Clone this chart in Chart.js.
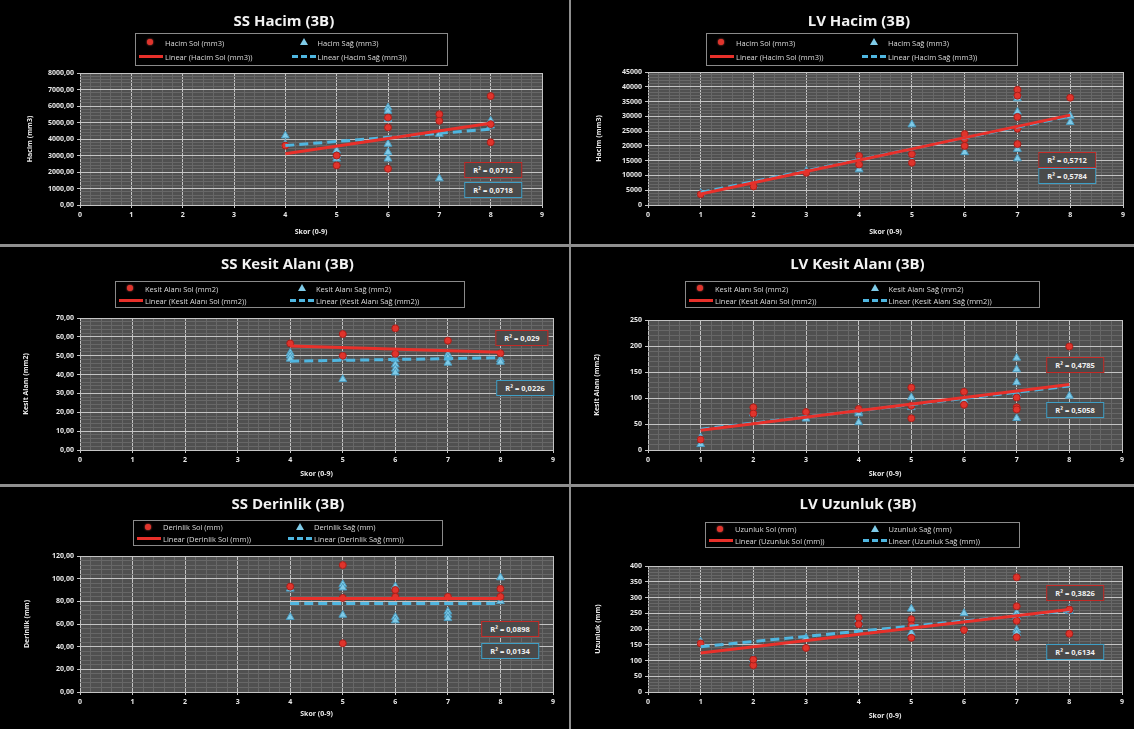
<!DOCTYPE html>
<html>
<head>
<meta charset="utf-8">
<script src="https://cdn.jsdelivr.net/npm/chart.js@4.4.1/dist/chart.umd.min.js"></script>
<style>
  html, body { margin: 0; padding: 0; background: #000; }
  body { width: 1134px; height: 729px; position: relative; overflow: hidden; font-family: "Open Sans", "Liberation Sans", sans-serif; }
  canvas { position: absolute; }
  .sep { position: absolute; background: #8f8f8f; }
  .legend { position: absolute; border: 1px solid #8a8a8a; box-sizing: border-box; display: grid; grid-template-columns: 1fr 1fr; align-content: space-evenly; padding: 0 3px; color: #dcdcdc; font-size: 7.5px; }
  .legend .item { display: flex; align-items: center; white-space: nowrap; height: 11px; }
  .legend .mk { width: 24px; height: 11px; position: relative; flex: none; margin-right: 2px; }
  .mk.dot::after { content: ""; position: absolute; left: 8px; top: 2px; width: 6px; height: 6px; border-radius: 50%; background: #e0342c; box-shadow: 0 0 2px #ff5a50; }
  .mk.tri::after { content: ""; position: absolute; left: 8px; top: 1px; width: 0; height: 0; border-left: 4px solid transparent; border-right: 4px solid transparent; border-bottom: 7px solid #7fcbe8; }
  .mk.ln::after { content: ""; position: absolute; left: 0; right: 0; top: 4px; border-top: 3px solid #e8302a; }
  .mk.dash::after { content: ""; position: absolute; left: 0; right: 0; top: 4px; border-top: 3px dashed #4fb6e0; }
  .r2 { position: absolute; font-size: 7.5px; font-weight: bold; color: #f0f0f0; padding: 2px 8px; white-space: nowrap; transform: translate(-50%, -50%); background: #4a4a4a; }
  .r2.sol { border: 1.5px solid #c32a26; }
  .r2.sag { border: 1.5px solid #3e9fc6; }
</style>
</head>
<body>
<script>
// ---------------- DATA ----------------
// SS Hacim (3B)
const ssHacimSolX = [4, 5, 5, 6, 6, 6, 7, 7, 8, 8, 8];
const ssHacimSolY = [3600, 2400, 3000, 4700, 5300, 2200, 5500, 5100, 6600, 3800, 4900];
const ssHacimSagX = [4, 4, 5, 5, 5, 6, 6, 6, 6, 6, 6, 7, 7, 8, 8];
const ssHacimSagY = [4200, 3700, 3300, 3000, 2800, 5900, 5700, 5200, 3700, 3200, 2800, 4300, 1600, 5100, 4800];
const ssHacimTrendX = [4, 8];
const ssHacimSolTrend = [3100, 4950];
const ssHacimSagTrend = [3600, 4600];
const ssHacimR2 = ["R² = 0,0712", "R² = 0,0718"];

// LV Hacim (3B)
const lvHacimSolX = [1, 2, 3, 4, 4, 5, 5, 6, 6, 6, 7, 7, 7, 7, 7, 8];
const lvHacimSolY = [3600, 6300, 10900, 13700, 16600, 17200, 14300, 22300, 20000, 24000, 39000, 29800, 25800, 20600, 37000, 36300];
const lvHacimSagX = [1, 2, 3, 4, 4, 5, 5, 5, 6, 6, 7, 7, 7, 7, 7, 7, 8, 8];
const lvHacimSagY = [4000, 6500, 11500, 16600, 12000, 27200, 17500, 14900, 22900, 17800, 37200, 36000, 31500, 25800, 18900, 15700, 30100, 28000];
const lvHacimTrendX = [1, 8];
const lvHacimSolTrend = [3700, 30400];
const lvHacimSagTrend = [4200, 30100];
const lvHacimR2 = ["R² = 0,5712", "R² = 0,5784"];

// SS Kesit Alanı (3B)
const ssKesitSolX = [4, 5, 5, 6, 6, 7, 8];
const ssKesitSolY = [56.5, 61.5, 50, 64.5, 51, 58, 51.3];
const ssKesitSagX = [4, 4, 4, 5, 5, 5, 6, 6, 6, 6, 6, 7, 7, 7, 8, 8];
const ssKesitSagY = [51.5, 50, 48.3, 50, 48.9, 37.5, 50.6, 48, 45.3, 43, 41, 50.6, 48.9, 46.2, 48, 46.7];
const ssKesitTrendX = [4, 8];
const ssKesitSolTrend = [55.2, 51.8];
const ssKesitSagTrend = [47.1, 48.9];
const ssKesitR2 = ["R² = 0,029", "R² = 0,0226"];

// LV Kesit Alanı (3B)
const lvKesitSolX = [1, 2, 2, 3, 4, 5, 5, 5, 6, 6, 7, 7, 7, 8];
const lvKesitSolY = [20, 82, 70, 73, 79, 120, 61, 85, 112, 87, 82, 78, 101, 199];
const lvKesitSagX = [1, 1, 2, 2, 3, 4, 4, 4, 5, 5, 6, 7, 7, 7, 7, 7, 7, 8];
const lvKesitSagY = [24, 11, 73, 70, 60, 73, 70, 53, 101, 82, 95, 177, 155, 130, 108, 104, 61, 104];
const lvKesitTrendX = [1, 8];
const lvKesitSolTrend = [38, 126];
const lvKesitSagTrend = [40, 123];
const lvKesitR2 = ["R² = 0,4785", "R² = 0,5058"];

// SS Derinlik (3B)
const ssDerinlikSolX = [4, 5, 5, 5, 6, 6, 7, 8, 8];
const ssDerinlikSolY = [93, 112, 83, 43, 90, 84, 84, 91, 84];
const ssDerinlikSagX = [4, 4, 5, 5, 5, 6, 6, 6, 7, 7, 7, 8, 8];
const ssDerinlikSagY = [91, 66, 95, 92, 68, 93, 66, 63, 71, 68, 65, 101, 80];
const ssDerinlikTrendX = [4, 8];
const ssDerinlikSolTrend = [82.5, 82.5];
const ssDerinlikSagTrend = [78, 78];
const ssDerinlikR2 = ["R² = 0,0898", "R² = 0,0134"];

// LV Uzunluk (3B)
const lvUzunlukSolX = [1, 2, 2, 3, 4, 4, 5, 5, 5, 6, 7, 7, 7, 7, 8, 8];
const lvUzunlukSolY = [154, 85, 103, 140, 236, 215, 231, 172, 212, 197, 364, 272, 226, 174, 185, 262];
const lvUzunlukSagX = [1, 2, 3, 4, 4, 5, 5, 6, 6, 7, 7, 7, 7, 8, 8];
const lvUzunlukSagY = [160, 104, 172, 231, 215, 264, 187, 250, 197, 251, 238, 197, 187, 264, 256];
const lvUzunlukTrendX = [1, 8];
const lvUzunlukSolTrend = [124, 262];
const lvUzunlukSagTrend = [144, 258];
const lvUzunlukR2 = ["R² = 0,3826", "R² = 0,6134"];

const xAxisTitle = "Skor (0-9)";

// ---------------- CHART DEFINITIONS ----------------
const pairs = (xs, ys) => xs.map((x, i) => ({ x: x, y: ys[i] }));

const defs = [
  { title: "SS Hacim (3B)", yTitle: "Hacim (mm3)", sol: "Hacim Sol (mm3)", sag: "Hacim Sağ (mm3)",
    yMax: 8000, yStep: 1000, dec: 2,
    solPts: pairs(ssHacimSolX, ssHacimSolY), sagPts: pairs(ssHacimSagX, ssHacimSagY),
    solTr: pairs(ssHacimTrendX, ssHacimSolTrend), sagTr: pairs(ssHacimTrendX, ssHacimSagTrend), r2: ssHacimR2,
    g: { x: 0, y: 0, w: 569, h: 244, l: 80, t: 73, r: 542, b: 205, titleY: 22, yTitleX: 30, xTitleY: 232,
         lg: [135, 33, 313, 33], r2a: [493, 170], r2b: [493, 190] } },
  { title: "LV Hacim (3B)", yTitle: "Hacim (mm3)", sol: "Hacim Sol (mm3)", sag: "Hacim Sağ (mm3)",
    yMax: 45000, yStep: 5000, dec: 0,
    solPts: pairs(lvHacimSolX, lvHacimSolY), sagPts: pairs(lvHacimSagX, lvHacimSagY),
    solTr: pairs(lvHacimTrendX, lvHacimSolTrend), sagTr: pairs(lvHacimTrendX, lvHacimSagTrend), r2: lvHacimR2,
    g: { x: 571, y: 0, w: 563, h: 244, l: 648, t: 72, r: 1123, b: 205, titleY: 22, yTitleX: 599, xTitleY: 232,
         lg: [706, 33, 312, 33], r2a: [1067, 160], r2b: [1067, 176] } },
  { title: "SS Kesit Alanı (3B)", yTitle: "Kesit Alanı (mm2)", sol: "Kesit Alanı Sol (mm2)", sag: "Kesit Alanı Sağ (mm2)",
    yMax: 70, yStep: 10, dec: 2,
    solPts: pairs(ssKesitSolX, ssKesitSolY), sagPts: pairs(ssKesitSagX, ssKesitSagY),
    solTr: pairs(ssKesitTrendX, ssKesitSolTrend), sagTr: pairs(ssKesitTrendX, ssKesitSagTrend), r2: ssKesitR2,
    g: { x: 0, y: 247, w: 569, h: 237, l: 80, t: 318, r: 553, b: 450, titleY: 265, yTitleX: 26, xTitleY: 474,
         lg: [115, 281, 350, 27], r2a: [522, 338], r2b: [525, 388] } },
  { title: "LV Kesit Alanı (3B)", yTitle: "Kesit Alanı (mm2)", sol: "Kesit Alanı Sol (mm2)", sag: "Kesit Alanı Sağ (mm2)",
    yMax: 250, yStep: 50, dec: 0,
    solPts: pairs(lvKesitSolX, lvKesitSolY), sagPts: pairs(lvKesitSagX, lvKesitSagY),
    solTr: pairs(lvKesitTrendX, lvKesitSolTrend), sagTr: pairs(lvKesitTrendX, lvKesitSagTrend), r2: lvKesitR2,
    g: { x: 571, y: 247, w: 563, h: 237, l: 648, t: 320, r: 1122, b: 450, titleY: 265, yTitleX: 597, xTitleY: 474,
         lg: [685, 281, 355, 27], r2a: [1075, 365], r2b: [1075, 410] } },
  { title: "SS Derinlik (3B)", yTitle: "Derinlik (mm)", sol: "Derinlik Sol (mm)", sag: "Derinlik Sağ (mm)",
    yMax: 120, yStep: 20, dec: 2,
    solPts: pairs(ssDerinlikSolX, ssDerinlikSolY), sagPts: pairs(ssDerinlikSagX, ssDerinlikSagY),
    solTr: pairs(ssDerinlikTrendX, ssDerinlikSolTrend), sagTr: pairs(ssDerinlikTrendX, ssDerinlikSagTrend), r2: ssDerinlikR2,
    g: { x: 0, y: 487, w: 569, h: 242, l: 80, t: 556, r: 553, b: 692, titleY: 505, yTitleX: 27, xTitleY: 714,
         lg: [133, 520, 310, 26], r2a: [510, 629], r2b: [510, 651] } },
  { title: "LV Uzunluk (3B)", yTitle: "Uzunluk (mm)", sol: "Uzunluk Sol (mm)", sag: "Uzunluk Sağ (mm)",
    yMax: 400, yStep: 50, dec: 0,
    solPts: pairs(lvUzunlukSolX, lvUzunlukSolY), sagPts: pairs(lvUzunlukSagX, lvUzunlukSagY),
    solTr: pairs(lvUzunlukTrendX, lvUzunlukSolTrend), sagTr: pairs(lvUzunlukTrendX, lvUzunlukSagTrend), r2: lvUzunlukR2,
    g: { x: 571, y: 487, w: 563, h: 242, l: 648, t: 566, r: 1122, b: 692, titleY: 505, yTitleX: 598, xTitleY: 716,
         lg: [705, 522, 315, 26], r2a: [1075, 593], r2b: [1075, 652] } }
];

// ---------------- RENDER ----------------
const PLOT_BG = "#505050", MAJOR = "#c4c4c4", MINOR = "#676767";
const TXT = "#e8e8e8";
const FONT = "'Open Sans', 'Liberation Sans', sans-serif";

const bgPlugin = {
  id: "bg",
  beforeDraw(chart) {
    const { ctx, chartArea: a } = chart;
    ctx.save();
    ctx.fillStyle = "#000";
    ctx.fillRect(0, 0, chart.width, chart.height);
    ctx.fillStyle = PLOT_BG;
    ctx.fillRect(a.left, a.top, a.right - a.left, a.bottom - a.top);
    ctx.restore();
  }
};

function isMajor(v, step) { const q = v / step; return Math.abs(q - Math.round(q)) < 1e-6; }

function el(tag, cls, parent) { const e = document.createElement(tag); if (cls) e.className = cls; (parent || document.body).appendChild(e); return e; }

// separators
[[0, 244, 1134, 3], [0, 484, 1134, 3], [569, 0, 2, 729]].forEach(s => {
  const d = el("div", "sep"); d.style.left = s[0] + "px"; d.style.top = s[1] + "px"; d.style.width = s[2] + "px"; d.style.height = s[3] + "px";
});

defs.forEach(d => {
  const g = d.g;
  const cv = el("canvas");
  cv.width = g.w; cv.height = g.h;
  cv.style.left = g.x + "px"; cv.style.top = g.y + "px";
  cv.style.width = g.w + "px"; cv.style.height = g.h + "px";

  const axFont = 7, axLH = axFont * 1.2;
  const padLeft = g.yTitleX - g.x - axLH / 2;
  const yWidth = g.l - g.x - padLeft;
  const padBottom = 2;
  const xHeight = (g.h - padBottom) - (g.b - g.y);
  const xTitlePadB = (g.h - padBottom) - (g.xTitleY - g.y) - axLH / 2;
  const padRight = g.x + g.w - g.r;
  const tFont = 15, tLH = tFont * 1.2;
  const tPadTop = g.titleY - g.y - tLH / 2;
  const tPadBottom = g.t - g.y - tLH - tPadTop;
  const yMinor = d.yStep / 5;

  new Chart(cv, {
    type: "scatter",
    data: {
      datasets: [
        { label: "Linear (" + d.sol + ")", data: d.solTr, showLine: true, pointRadius: 0, borderColor: "#e8302a", borderWidth: 3, order: 0 },
        { label: "Linear (" + d.sag + ")", data: d.sagTr, showLine: true, pointRadius: 0, borderColor: "#4fb6e0", borderWidth: 3, borderDash: [9, 5], order: 0 },
        { label: d.sol, data: d.solPts, pointStyle: "circle", pointRadius: 3.5, backgroundColor: "#e0342c", borderColor: "#a81f1a", borderWidth: 1, order: 1 },
        { label: d.sag, data: d.sagPts, pointStyle: "triangle", pointRadius: 4.5, backgroundColor: "#7fcbe8", borderColor: "#4a9cc0", borderWidth: 1, order: 2 }
      ]
    },
    options: {
      responsive: false, animation: false, devicePixelRatio: 1,
      layout: { padding: { left: padLeft, right: padRight, top: 0, bottom: padBottom } },
      plugins: {
        legend: { display: false }, tooltip: { enabled: false },
        title: { display: true, text: d.title, color: "#f2f2f2", font: { family: FONT, size: tFont, weight: "bold" }, padding: { top: tPadTop, bottom: tPadBottom } }
      },
      scales: {
        x: {
          type: "linear", min: 0, max: 9,
          afterFit: s => { s.height = xHeight; },
          ticks: { stepSize: 0.2, autoSkip: false, maxRotation: 0, maxTicksLimit: 1000, padding: 3, color: TXT, font: { family: FONT, size: 7, weight: "bold" },
                   callback: v => isMajor(v, 1) ? String(Math.round(v)) : "" },
          grid: { color: c => (c.tick && isMajor(c.tick.value, 1)) ? MAJOR : MINOR, tickColor: c => (c.tick && isMajor(c.tick.value, 1)) ? MAJOR : "rgba(0,0,0,0)", tickLength: 3, lineWidth: 1 },
          border: { display: false },
          title: { display: true, text: xAxisTitle, color: TXT, font: { family: FONT, size: axFont, weight: "bold" }, padding: { top: 0, bottom: xTitlePadB } }
        },
        y: {
          type: "linear", min: 0, max: d.yMax,
          afterFit: s => { s.width = yWidth; },
          ticks: { stepSize: yMinor, autoSkip: false, maxTicksLimit: 1000, padding: 3, color: TXT, font: { family: FONT, size: 7, weight: "bold" },
                   callback: v => isMajor(v, d.yStep) ? (d.dec ? Number(v).toFixed(d.dec).replace(".", ",") : String(Math.round(v))) : "" },
          grid: { color: c => (c.tick && isMajor(c.tick.value, d.yStep)) ? MAJOR : MINOR, tickColor: c => (c.tick && isMajor(c.tick.value, d.yStep)) ? MAJOR : "rgba(0,0,0,0)", tickLength: 3, lineWidth: 1 },
          border: { display: false },
          title: { display: true, text: d.yTitle, color: TXT, font: { family: FONT, size: axFont, weight: "bold" }, padding: { top: 0, bottom: 0 } }
        }
      }
    },
    plugins: [bgPlugin]
  });

  // legend (HTML)
  const lg = el("div", "legend");
  lg.style.left = g.lg[0] + "px"; lg.style.top = g.lg[1] + "px"; lg.style.width = g.lg[2] + "px"; lg.style.height = g.lg[3] + "px";
  [["dot", d.sol], ["tri", d.sag], ["ln", "Linear (" + d.sol + ")"], ["dash", "Linear (" + d.sag + ")"]].forEach(it => {
    const item = el("div", "item", lg);
    el("span", "mk " + it[0], item);
    const t = el("span", "", item); t.textContent = it[1];
  });

  // R² labels
  const ra = el("div", "r2 sol"); ra.textContent = d.r2[0]; ra.style.left = g.r2a[0] + "px"; ra.style.top = g.r2a[1] + "px";
  const rb = el("div", "r2 sag"); rb.textContent = d.r2[1]; rb.style.left = g.r2b[0] + "px"; rb.style.top = g.r2b[1] + "px";
});
</script>
</body>
</html>
